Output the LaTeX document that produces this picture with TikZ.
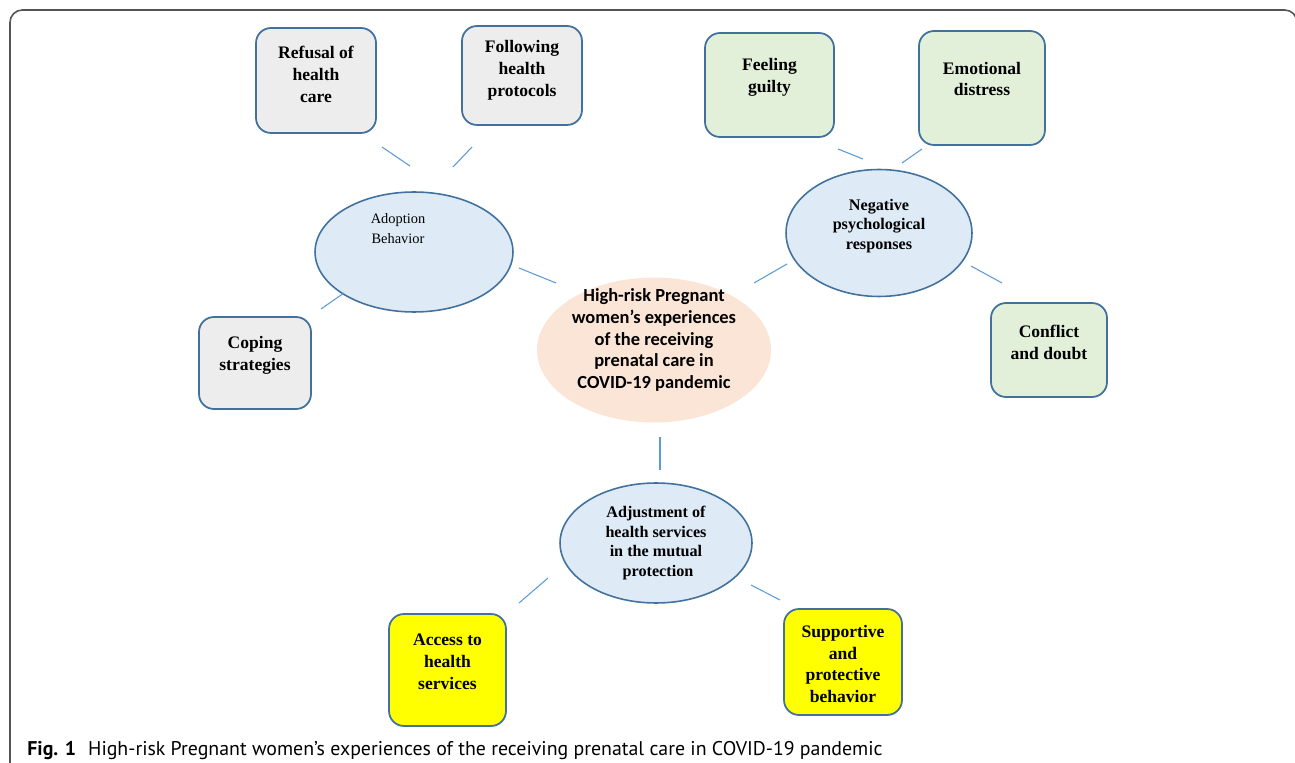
\documentclass[tikz,border=0pt]{standalone}
\usepackage{fontspec}
\setmainfont{Liberation Serif}
\newfontfamily\calibfont{Carlito}
\newfontfamily\capfont{PT Sans}
\usetikzlibrary{shapes.geometric, positioning}

\definecolor{edgeblue}{RGB}{65,113,156}
\definecolor{linkblue}{RGB}{91,155,213}
\definecolor{boxgrey}{RGB}{237,237,237}
\definecolor{boxgreen}{RGB}{226,239,217}
\definecolor{boxyellow}{RGB}{255,255,0}
\definecolor{ovalblue}{RGB}{222,235,247}
\definecolor{ovalpeach}{RGB}{251,229,214}
\definecolor{framegrey}{RGB}{85,85,85}

\tikzset{
  themebox/.style={draw=edgeblue, line width=1pt, rounded corners=8.5pt, inner sep=0pt},
  greybox/.style={themebox, fill=boxgrey},
  greenbox/.style={themebox, fill=boxgreen},
  yellowbox/.style={themebox, fill=boxyellow},
  oval/.style={ellipse, draw=edgeblue, line width=0.9pt, fill=ovalblue, inner sep=0pt},
  boxtext/.style={align=center, font=\bfseries\fontsize{10}{12.5}\selectfont},
  ovaltext/.style={align=center, font=\bfseries\fontsize{9.2}{11.2}\selectfont},
  link/.style={linkblue, line width=0.6pt}
}

\begin{document}
\begin{tikzpicture}[x=0.02cm, y=-0.02cm]
    \useasboundingbox (0,0) rectangle (1295,763);

    % --- Outer frame ---
    \draw[framegrey, line width=0.9pt, rounded corners=7pt] (10,780) -- (10,10) -- (1297,10) -- (1297,780);

    % --- Central theme ---
    \node[ellipse, fill=ovalpeach, minimum width=4.68cm, minimum height=2.9cm, inner sep=0pt] (core) at (654,350) {};
    \node[align=center, font=\calibfont\bfseries\fontsize{10.5}{12.5}\selectfont] (core-txt) at (654,340)
      {High-risk Pregnant\\women’s experiences\\of the receiving\\prenatal care in\\COVID-19 pandemic};

    % --- Sub themes ---
    \node[oval, minimum width=3.96cm, minimum height=2.4cm] (adopt) at (414,252) {};
    \node[align=center, font=\fontsize{8.2}{11.4}\selectfont] (adopt-txt) at (398,229) {Adoption\\Behavior};

    \node[oval, minimum width=3.72cm, minimum height=2.54cm] (negative) at (879,233) {};
    \node[ovaltext] (negative-txt) at (879,226) {Negative\\psychological\\responses};

    \node[oval, minimum width=3.84cm, minimum height=2.4cm] (adjust) at (656,543) {};
    \node[ovaltext] (adjust-txt) at (656,543) {Adjustment of\\health services\\in the mutual\\\ protection};

    % --- Categories ---
    \node[greybox, minimum width=2.4cm, minimum height=2.1cm] (refusal) at (316,80.5) {};
    \node[boxtext] (refusal-txt) at (316,74) {Refusal of\\health\\care};

    \node[greybox, minimum width=2.4cm, minimum height=1.98cm] (follow) at (522,75.5) {};
    \node[boxtext] (follow-txt) at (522,70) {Following\\health\\protocols};

    \node[greybox, minimum width=2.24cm, minimum height=1.84cm] (coping) at (255,363) {};
    \node[boxtext] (coping-txt) at (255,355) {Coping\\strategies};

    \node[greenbox, minimum width=2.58cm, minimum height=2.08cm] (guilty) at (769.5,85) {};
    \node[boxtext] (guilty-txt) at (769.5,77) {Feeling\\guilty};

    \node[greenbox, minimum width=2.52cm, minimum height=2.28cm] (distress) at (982,88) {};
    \node[boxtext] (distress-txt) at (982,79) {Emotional\\distress};

    \node[greenbox, minimum width=2.32cm, minimum height=1.88cm] (conflict) at (1049,350) {};
    \node[boxtext] (conflict-txt) at (1049,342) {Conflict\\and doubt};

    \node[yellowbox, minimum width=2.34cm, minimum height=2.24cm] (access) at (447.5,670) {};
    \node[boxtext] (access-txt) at (447.5,662) {Access to\\health\\services};

    \node[yellowbox, minimum width=2.36cm, minimum height=2.12cm] (support) at (843,662) {};
    \node[boxtext] (support-txt) at (843,664) {Supportive\\and\\protective\\behavior};

    % --- Links (short, not touching the shapes) ---
    \coordinate (l1a) at (382,147);  \coordinate (l1b) at (410,166);
    \coordinate (l2a) at (453,167);  \coordinate (l2b) at (472,147);
    \coordinate (l3a) at (838,149);  \coordinate (l3b) at (863,159);
    \coordinate (l4a) at (902,163);  \coordinate (l4b) at (922,149);
    \coordinate (l5a) at (519,268);  \coordinate (l5b) at (556,283);
    \coordinate (l6a) at (754,283);  \coordinate (l6b) at (787,264);
    \coordinate (l7a) at (321,309);  \coordinate (l7b) at (344,293);
    \coordinate (l8a) at (971,266);  \coordinate (l8b) at (1002,283);
    \coordinate (l9a) at (660,437);  \coordinate (l9b) at (660,470);
    \coordinate (l10a) at (519,603); \coordinate (l10b) at (548,578);
    \coordinate (l11a) at (751,585); \coordinate (l11b) at (780,600);
    \foreach \k in {1,...,11} {
      \draw[link] (l\k a) -- (l\k b);
    }

    % --- Caption ---
    \node[anchor=base west, inner sep=0pt, font=\capfont\fontsize{11.3}{13}\selectfont] (caption) at (27,755)
      {\textbf{Fig. 1}\hspace{0.6em}High-risk Pregnant women’s experiences of the receiving prenatal care in COVID-19 pandemic};
\end{tikzpicture}
\end{document}
